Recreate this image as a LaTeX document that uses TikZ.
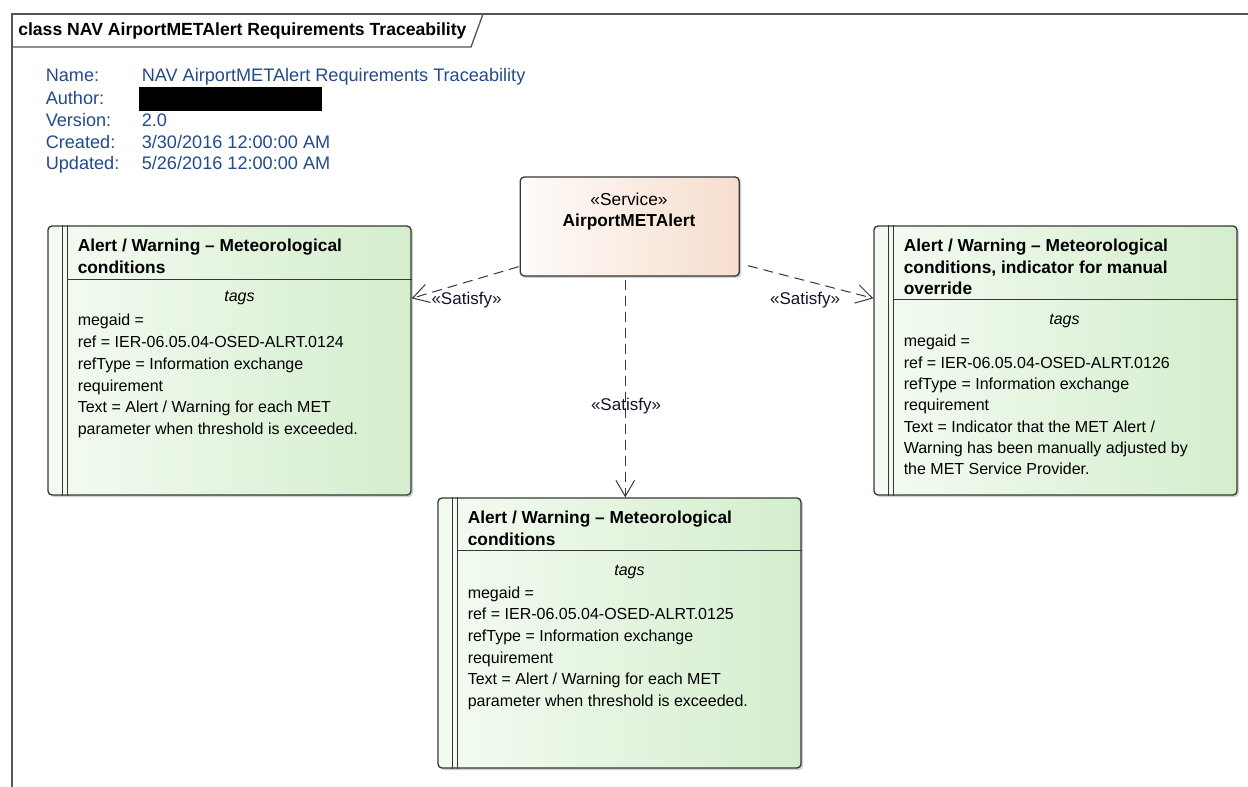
\documentclass[tikz,border=0pt]{standalone}
\usepackage{fontspec}
\setmainfont{Liberation Sans}
\usetikzlibrary{arrows.meta,calc,shadows}
\definecolor{framec}{RGB}{85,85,85}
\definecolor{boxline}{RGB}{55,55,55}
\definecolor{infoblue}{RGB}{35,75,140}
\definecolor{greenL}{RGB}{244,251,242}
\definecolor{greenR}{RGB}{212,238,205}
\definecolor{peachL}{RGB}{254,251,249}
\definecolor{peachR}{RGB}{246,222,206}
\definecolor{lblc}{RGB}{20,20,40}
\tikzset{
  reqbox/.style={draw=boxline, line width=1pt, rounded corners=3pt,
    left color=greenL, right color=greenR, inner sep=0pt,
    drop shadow={shadow xshift=1.5pt, shadow yshift=-1.5pt, fill=black!30, opacity=0.6}},
  svcbox/.style={draw=boxline, line width=1pt, rounded corners=3pt,
    left color=peachL, right color=peachR, inner sep=0pt,
    drop shadow={shadow xshift=1.5pt, shadow yshift=-1.5pt, fill=black!30, opacity=0.6}},
  ttl/.style={anchor=base west, inner sep=0pt, font=\bfseries\fontsize{13}{16}\selectfont},
  bod/.style={anchor=base west, inner sep=0pt, font=\fontsize{12}{15}\selectfont},
  tg/.style={anchor=base, inner sep=0pt, font=\itshape\fontsize{12}{15}\selectfont},
  info/.style={anchor=base west, inner sep=0pt, text=infoblue, font=\fontsize{13.6}{14}\selectfont},
  sline/.style={draw=boxline, line width=0.75pt},
  dep/.style={draw=boxline, line width=0.75pt, dash pattern=on 7.5pt off 4.5pt,
    -{Straight Barb[length=12pt,width=14pt]}},
  lbl/.style={anchor=base, inner sep=0pt, text=lblc, font=\fontsize{12.75}{14}\selectfont}
}
\begin{document}
\begin{tikzpicture}[x=0.75pt,y=-0.75pt]
\useasboundingbox (0,0) rectangle (1248,787);
\fill[white] (0,0) rectangle (1248,787);
% frame
\draw[framec, line width=1.5pt] (12,787) -- (12,14) -- (1248,14);
\draw[framec, line width=1pt] (12,47) -- (471,47) -- (483,14);
\node[anchor=base west, inner sep=0pt, font=\bfseries\fontsize{13.2}{14}\selectfont] (ftitle) at (18,36) {class NAV AirportMETAlert Requirements Traceability};
% header info
\node[info] (n1) at (45.5,81.7) {Name:};
\node[info] (n2) at (45.5,104.5) {Author:};
\node[info] (n3) at (45.5,126.5) {Version:};
\node[info] (n4) at (45.5,148.3) {Created:};
\node[info] (n5) at (45.5,170) {Updated:};
\node[info] (v1) at (141.5,81.7) {NAV AirportMETAlert Requirements Traceability};
\fill[black] (139,87) rectangle (322,111);
\node[info] (v3) at (141.5,126.5) {2.0};
\node[info] (v4) at (141.5,148.3) {3/30/2016 12:00:00 AM};
\node[info] (v5) at (141.5,170) {5/26/2016 12:00:00 AM};
% service
\node[svcbox, minimum width=164.25pt, minimum height=74.25pt] (S) at (629.75,226.5) {};
\node[anchor=base, inner sep=0pt, font=\fontsize{13}{14}\selectfont] (s1) at (629,205.5) {«Service»};
\node[anchor=base, inner sep=0pt, font=\bfseries\fontsize{13}{14}\selectfont] (s2) at (629,227) {AirportMETAlert};
% left box
\node[reqbox, minimum width=272.25pt, minimum height=201.75pt] (L) at (229.5,360.5) {};
\draw[sline] ($(L.north west)+(15,0)$) -- ($(L.south west)+(15,0)$);
\draw[sline] ($(L.north west)+(20,0)$) -- ($(L.south west)+(20,0)$);
\draw[sline] ($(L.north west)+(20,54)$) -- ($(L.north east)+(0,54)$);
\node[ttl] (L1) at (77.5,251.7) {Alert / Warning – Meteorological};
\node[ttl] (L2) at (77.5,273.3) {conditions};
\node[tg] (Lt) at (239.5,302) {tags};
\node[bod] (Lb1) at (77.5,326) {megaid =};
\node[bod] (Lb2) at (77.5,347.7) {ref = IER-06.05.04-OSED-ALRT.0124};
\node[bod] (Lb3) at (77.5,369.4) {refType = Information exchange};
\node[bod] (Lb4) at (77.5,391.1) {requirement};
\node[bod] (Lb5) at (77.5,412.8) {Text = Alert / Warning for each MET};
\node[bod] (Lb6) at (77.5,434.5) {parameter when threshold is exceeded.};
% right box
\node[reqbox, minimum width=272.25pt, minimum height=201.75pt] (R) at (1055.5,360.5) {};
\draw[sline] ($(R.north west)+(15,0)$) -- ($(R.south west)+(15,0)$);
\draw[sline] ($(R.north west)+(20,0)$) -- ($(R.south west)+(20,0)$);
\draw[sline] ($(R.north west)+(20,74)$) -- ($(R.north east)+(0,74)$);
\node[ttl] (R1) at (903.5,251.7) {Alert / Warning – Meteorological};
\node[ttl] (R2) at (903.5,273.2) {conditions, indicator for manual};
\node[ttl] (R3) at (903.5,294.7) {override};
\node[tg] (Rt) at (1064.5,324.5) {tags};
\node[bod] (Rb1) at (903.5,347) {megaid =};
\node[bod] (Rb2) at (903.5,368.3) {ref = IER-06.05.04-OSED-ALRT.0126};
\node[bod] (Rb3) at (903.5,389.6) {refType = Information exchange};
\node[bod] (Rb4) at (903.5,410.9) {requirement};
\node[bod] (Rb5) at (903.5,432.2) {Text = Indicator that the MET Alert /};
\node[bod] (Rb6) at (903.5,453.5) {Warning has been manually adjusted by};
\node[bod] (Rb7) at (903.5,474.8) {the MET Service Provider.};
% bottom box
\node[reqbox, minimum width=272.25pt, minimum height=202.5pt] (B) at (619.5,633) {};
\draw[sline] ($(B.north west)+(15,0)$) -- ($(B.south west)+(15,0)$);
\draw[sline] ($(B.north west)+(20,0)$) -- ($(B.south west)+(20,0)$);
\draw[sline] ($(B.north west)+(20,53)$) -- ($(B.north east)+(0,53)$);
\node[ttl] (B1) at (467.5,523) {Alert / Warning – Meteorological};
\node[ttl] (B2) at (467.5,545) {conditions};
\node[tg] (Bt) at (629.5,575) {tags};
\node[bod] (Bb1) at (467.5,598) {megaid =};
\node[bod] (Bb2) at (467.5,619.7) {ref = IER-06.05.04-OSED-ALRT.0125};
\node[bod] (Bb3) at (467.5,641.4) {refType = Information exchange};
\node[bod] (Bb4) at (467.5,663.1) {requirement};
\node[bod] (Bb5) at (467.5,684.8) {Text = Alert / Warning for each MET};
\node[bod] (Bb6) at (467.5,706.5) {parameter when threshold is exceeded.};
% connectors
\coordinate (c1) at ($(S.south west)+(-1,-10)$);
\coordinate (c2) at ($(L.north east)+(0,73)$);
\draw[dep] (c1) -- (c2);
\coordinate (c3) at ($(S.south east)+(8,-11)$);
\coordinate (c4) at ($(R.north west)+(0,73)$);
\draw[dep] (c3) -- (c4);
\coordinate (c5) at ($(S.south)+(-4.5,3)$);
\coordinate (c6) at (B.north -| c5);
\draw[dep] (c5) -- (c6);
\node[lbl] (lab1) at (466.5,304.5) {«Satisfy»};
\node[lbl] (lab2) at (805,305) {«Satisfy»};
\node[lbl] (lab3) at (626,411) {«Satisfy»};
\end{tikzpicture}
\end{document}
